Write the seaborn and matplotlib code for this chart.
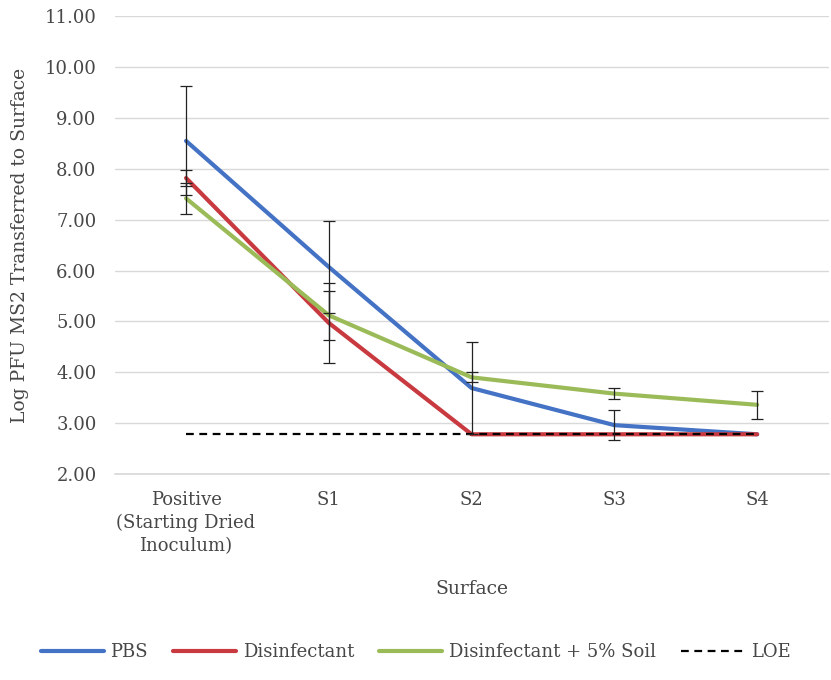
import numpy as np
import pandas as pd
import matplotlib
matplotlib.use("Agg")
import matplotlib.pyplot as plt
from matplotlib.ticker import FormatStrFormatter
import seaborn as sns

surfaces = ["Positive\n(Starting Dried\nInoculum)", "S1", "S2", "S3", "S4"]
pbs = [8.55, 6.07, 3.69, 2.96, 2.78]
pbs_err = [1.07, 0.90, 0.90, 0.30, 0.0]
disinfectant = [7.82, 4.97, 2.78, 2.78, 2.78]
disinfectant_err = [0.16, 0.78, 0.0, 0.0, 0.0]
soil = [7.42, 5.12, 3.90, 3.58, 3.36]
soil_err = [0.31, 0.48, 0.10, 0.11, 0.27]
loe = [2.78, 2.78, 2.78, 2.78, 2.78]

series = {
    "PBS": (pbs, pbs_err, "#4472C4"),
    "Disinfectant": (disinfectant, disinfectant_err, "#C83A40"),
    "Disinfectant + 5% Soil": (soil, soil_err, "#9BBB59"),
}

rows = []
for name, (vals, errs, _) in series.items():
    for i, v in enumerate(vals):
        rows.append({"pos": i, "value": v, "series": name})
df = pd.DataFrame(rows)

sns.set_theme(style="white")
plt.rcParams['font.family'] = ['DejaVu Serif']
txt = "#474747"

fig, ax = plt.subplots(figsize=(8.31, 6.8), dpi=100)
fig.subplots_adjust(left=0.138, right=0.997, top=0.976, bottom=0.303)

palette = {k: v[2] for k, v in series.items()}
sns.lineplot(data=df, x="pos", y="value", hue="series", palette=palette,
             linewidth=3.0, ax=ax, legend=False)

# error bars
for name, (vals, errs, _) in series.items():
    x = [i for i, e in enumerate(errs) if e > 0]
    y = [vals[i] for i in x]
    e = [errs[i] for i in x]
    ax.errorbar(x, y, yerr=e, fmt="none", ecolor="#222222", elinewidth=0.9,
                capsize=4.3, capthick=0.9, zorder=5)

ax.plot(range(len(loe)), loe, color="black", linestyle=(0, (3.5, 2.5)),
        linewidth=1.6, zorder=4)

ax.set_xlim(-0.5, 4.5)
ax.set_ylim(2, 11)
ax.set_yticks(np.arange(2, 11.5, 1))
ax.yaxis.set_major_formatter(FormatStrFormatter("%.2f"))
ax.set_xticks(range(len(surfaces)))
ax.set_xticklabels(surfaces, fontsize=13, color=txt, linespacing=1.35)
ax.tick_params(axis="y", labelsize=13, labelcolor=txt, length=0, pad=13)
ax.tick_params(axis="x", length=0, pad=12)
ax.grid(axis="y", color="#D9D9D9", linewidth=1)
for s in ["top", "right", "left"]:
    ax.spines[s].set_visible(False)
ax.spines["bottom"].set_color("#D9D9D9")
ax.set_ylabel("Log PFU MS2 Transferred to Surface", fontsize=13.5, color=txt, labelpad=11)
ax.set_xlabel("Surface", fontsize=13.5, color=txt, labelpad=18)

handles = [plt.Line2D([], [], color=c[2], linewidth=3.0) for c in series.values()]
handles.append(plt.Line2D([], [], color="black", linestyle=(0, (3.5, 2.5)), linewidth=1.6))
labels = list(series.keys()) + ["LOE"]
fig.legend(handles, labels, loc="center", bbox_to_anchor=(0.5, 0.041), ncol=4,
           frameon=False, fontsize=13, handlelength=3.5, columnspacing=1.4,
           labelcolor=txt, handletextpad=0.35)

fig.savefig("out.png", dpi=100)
